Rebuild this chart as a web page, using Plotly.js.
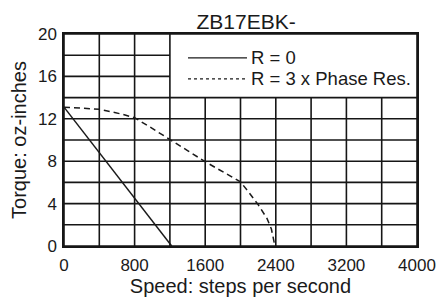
<!DOCTYPE html>
<html>
<head>
<meta charset="utf-8">
<script src="https://cdn.plot.ly/plotly-3.0.1.min.js"></script>
<style>html,body{margin:0;padding:0;background:#fff;}#chart{width:438px;height:297px;}</style>
</head>
<body>
<div id="chart"></div>
<script>
const chartTitle = "ZB17EBK-";
const xTitle = "Speed: steps per second";
const yTitle = "Torque: oz-inches";
const seriesNames = ["R = 0", "R = 3 x Phase Res."];
const xGridVals = [0, 400, 800, 1200, 1600, 2000, 2400, 2800, 3200, 3600, 4000];
const xTickText = ["0", "", "800", "", "1600", "", "2400", "", "3200", "", "4000"];
const yGridVals = [0, 2, 4, 6, 8, 10, 12, 14, 16, 18, 20];
const yTickText = ["0", "", "4", "", "8", "", "12", "", "16", "", "20"];
// blank key box in the upper right (speed range x torque range)
const keyBoxX = [1200, 4000];
const keyBoxY = [14, 20];

const solidX = [0, 1220];
const solidY = [13.1, 0];
const dashX = [0, 400, 650, 800, 950, 1100, 1200, 1400, 1600, 1800, 2000, 2100, 2200, 2300, 2350, 2390];
const dashY = [13.1, 12.9, 12.45, 12.1, 11.35, 10.55, 10.0, 9.0, 7.95, 7.0, 6.05, 5.0, 3.9, 2.6, 1.6, 0];

const FONT = "Liberation Sans, Arial, sans-serif";
const INK = "#1a1a1a";
const GRID = "#161616";
const GW = 1.6;

const traces = [
  {x: solidX, y: solidY, mode: "lines", name: seriesNames[0], showlegend: false,
   line: {color: INK, width: 1.5}},
  {x: dashX, y: dashY, mode: "lines", name: seriesNames[1], showlegend: false,
   line: {color: INK, width: 1.5, dash: "6px,4px"}}
];

// Grid lines as shapes, leaving the key box blank
const gridShapes = [];
xGridVals.forEach(v => {
  const inBox = v > keyBoxX[0] && v < keyBoxX[1];
  gridShapes.push({type: "line", xref: "x", yref: "y", x0: v, x1: v,
    y0: 0, y1: inBox ? keyBoxY[0] : 20, line: {color: GRID, width: GW}, layer: "below"});
});
yGridVals.forEach(v => {
  const inBox = v > keyBoxY[0] && v < keyBoxY[1];
  gridShapes.push({type: "line", xref: "x", yref: "y", x0: 0, x1: inBox ? keyBoxX[0] : 4000,
    y0: v, y1: v, line: {color: GRID, width: GW}, layer: "below"});
});

// Hand-drawn key (samples + labels) inside the blank box
const keyRows = [
  {name: seriesNames[0], dash: "solid", y: 0.8871},
  {name: seriesNames[1], dash: "dot", y: 0.7882}
];
const keyShapes = keyRows.map(r => ({type: "line", xref: "paper", yref: "paper",
  x0: 0.3513, x1: 0.5184, y0: r.y, y1: r.y, line: {color: INK, width: 1.3, dash: r.dash}, layer: "above"}));
const keyLabels = keyRows.map(r => ({text: r.name, xref: "paper", yref: "paper",
  x: 0.524, y: r.y, xanchor: "left", yanchor: "middle", showarrow: false,
  font: {size: 18.5, family: FONT, color: INK}}));

const layout = {
  width: 438, height: 297,
  margin: {l: 64, r: 21, t: 34, b: 50.5},
  paper_bgcolor: "#fff", plot_bgcolor: "#fff",
  font: {family: FONT, color: INK, size: 17},
  title: {text: chartTitle, font: {size: 21, family: FONT, color: INK},
          x: 0.516, xanchor: "center", xref: "paper",
          y: 1, yref: "paper", yanchor: "bottom", pad: {b: 5}},
  showlegend: false,
  xaxis: {range: [0, 4000], tickvals: xGridVals, ticktext: xTickText,
          showgrid: false, zeroline: false, showline: true, mirror: true,
          linecolor: GRID, linewidth: 1.7,
          ticks: "", ticklabelstandoff: 3,
          tickfont: {size: 17, family: FONT, color: INK},
          title: {text: xTitle, font: {size: 20, family: FONT, color: INK}, standoff: 8},
          fixedrange: true},
  yaxis: {range: [0, 20], tickvals: yGridVals, ticktext: yTickText,
          showgrid: false, zeroline: false, showline: true, mirror: true,
          linecolor: GRID, linewidth: 1.7,
          ticks: "", ticklabelstandoff: 2,
          tickfont: {size: 17, family: FONT, color: INK},
          title: {text: yTitle, font: {size: 20, family: FONT, color: INK}, standoff: 6},
          fixedrange: true},
  shapes: gridShapes.concat(keyShapes),
  annotations: keyLabels
};

Plotly.newPlot("chart", traces, layout, {displayModeBar: false, staticPlot: true});
</script>
</body>
</html>
